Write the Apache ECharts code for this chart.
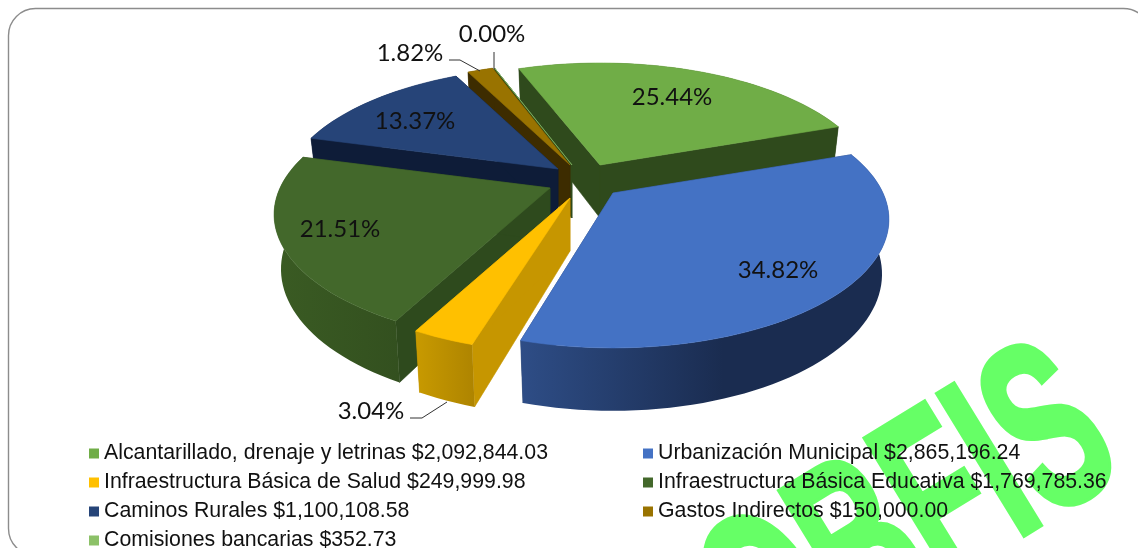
<!DOCTYPE html>
<html>
<head>
<meta charset="utf-8">
<style>
  html,body{margin:0;padding:0;background:#fff;overflow:hidden}
  #chart{width:1138px;height:548px}
</style>
<script src="https://cdn.jsdelivr.net/npm/echarts@6/dist/echarts.min.js"></script>
</head>
<body>
<div id="chart"></div>
<script>
// chart values, clockwise from the first slice
var names = ['Alcantarillado, drenaje y letrinas','Urbanización Municipal','Infraestructura Básica de Salud','Infraestructura Básica Educativa','Caminos Rurales','Gastos Indirectos','Comisiones bancarias'];
var amounts = [2092844.03,2865196.24,249999.98,1769785.36,1100108.58,150000.00,352.73];
var percentLabels = ['25.44%','34.82%','3.04%','21.51%','13.37%','1.82%','0.00%'];

// slice colours
var topColors = ['#70ad47','#4472c4','#ffc000','#43682b','#264478','#997300','#8cc168'];
var wallColors = ['#2f4a1c','#24406f','#c69600','#2e4a1d','#0e1c38','#3d2c00','#2f4a1c'];
var rimColors = [
  ['#2f4a1c','#2f4a1c'],
  ['#2e4d86','#1a2c50'],
  ['#c89a00','#ae8400'],
  ['#3a5b23','#33501f'],
  ['#0e1c38','#0e1c38'],
  ['#3d2c00','#3d2c00'],
  ['#2f4a1c','#2f4a1c']
];

// projection of the tilted pie
var cx = 572, cy = 180, rx = 270, ry = 123, tilt = 0.206, depth = 53, shrink = 0.975;
var startAngle = -110;
// small turn of the first two slices, the perspective in the original is not quite even
var angleShift = [-1,-1,0,0,0,0,0];
// how far each slice is pulled out
var explode = [[28,-15],[41,13],[-2,18],[-22,8],[-14,-11],[-2,-15],[0,-15]];
// back to front
var paintOrder = [0,6,5,4,3,2,1];
// label centre and leader line, relative to the slice apex
var labelOffset = [[72,-68],[165,77],[-199,213],[-210,41],[-143,-48],[-160,-112],[-80,-131]];
var leaders = {2:[[-160,220],[-148,220],[-123,204]],5:[[-121,-105],[-110,-105],[-90,-94]],6:[[-78,-113],[-78,-96]]};

var total = 0;
amounts.forEach(function(v){ total += v; });

function sliceAngles(i){
  var a = startAngle;
  for(var k=0;k<i;k++){ a += amounts[k]/total*360; }
  return [a+angleShift[i], a+angleShift[i] + amounts[i]/total*360];
}
function topPoint(i,deg,r){
  var t = deg*Math.PI/180, w = 1-tilt*Math.sin(t)*r;
  return [cx+explode[i][0]+rx*r*Math.cos(t)/w, cy+explode[i][1]+ry*r*Math.sin(t)/w];
}
function lowPoint(i,deg,r){
  var t = deg*Math.PI/180, w = 1-tilt*Math.sin(t)*r;
  return [cx+explode[i][0]+shrink*rx*r*Math.cos(t)/w, cy+explode[i][1]+shrink*ry*r*Math.sin(t)/w+depth/w];
}
function poly(points,fill,stroke){
  return {type:'polygon',shape:{points:points},style:{fill:fill,stroke:stroke,lineWidth:0.6}};
}

function renderSlice(i){
  return function(){
    var ang = sliceAngles(i), arcTop = [], arcLow = [];
    var steps = Math.max(1,Math.ceil((ang[1]-ang[0])/2));
    for(var s=0;s<=steps;s++){
      var d = ang[0]+(ang[1]-ang[0])*s/steps;
      arcTop.push(topPoint(i,d,1));
      arcLow.push(lowPoint(i,d,1));
    }
    var apexT = topPoint(i,0,0), apexL = lowPoint(i,0,0);
    var rimFill = new echarts.graphic.LinearGradient(0,0,1,0,[
      {offset:0,color:rimColors[i][0]},
      {offset:i===1?0.55:1,color:rimColors[i][1]},
      {offset:1,color:rimColors[i][1]}
    ]);
    var wall = wallColors[i];
    return {type:'group',children:[
      poly([apexT,arcTop[0],arcLow[0],apexL],wall,wall),
      poly([apexT,arcTop[steps],arcLow[steps],apexL],wall,wall),
      poly(arcTop.concat(arcLow.slice().reverse()),rimFill,null),
      poly([apexT].concat(arcTop),topColors[i],topColors[i])
    ]};
  };
}

function renderLabels(params){
  var i = params.dataIndex, apex = topPoint(i,0,0), kids = [];
  kids.push({type:'text',x:apex[0]+labelOffset[i][0],y:apex[1]+labelOffset[i][1],
    style:{text:percentLabels[i],font:'24px Lato',fill:'#111',align:'center',verticalAlign:'middle'}});
  if(leaders[i]){
    kids.push({type:'polyline',shape:{points:leaders[i].map(function(p){return [apex[0]+p[0],apex[1]+p[1]];})},
      style:{fill:null,stroke:'#333',lineWidth:1}});
  }
  return {type:'group',children:kids};
}

function legendName(i){
  return names[i]+' $'+amounts[i].toLocaleString('en-US',{minimumFractionDigits:2,maximumFractionDigits:2});
}

var series = names.map(function(n,i){
  return {
    name:legendName(i),
    type:'custom',
    coordinateSystem:'none',
    z:3+paintOrder.indexOf(i),
    silent:true,
    itemStyle:{color:topColors[i]},
    renderItem:renderSlice(i),
    data:[amounts[i]]
  };
});
series.push({
  name:'labels',type:'custom',coordinateSystem:'none',z:20,silent:true,
  renderItem:renderLabels,data:percentLabels
});

var legendBase = {
  orient:'vertical',top:443,height:140,itemWidth:10,itemHeight:10,itemGap:8,icon:'rect',
  selectedMode:false,padding:0,z:10,
  textStyle:{fontFamily:'Liberation Sans',fontSize:21.3,color:'#111'}
};

var chart = echarts.init(document.getElementById('chart'));
chart.setOption({
  animation:false,
  backgroundColor:'#fff',
  graphic:[
    {type:'rect',z:0,shape:{x:8.5,y:8.5,width:1142,height:547,r:27},style:{fill:'#fff',stroke:'#8c8c8c',lineWidth:1.4}},
    {type:'text',z:1,x:912,y:526,rotation:31.5*Math.PI/180,scaleX:0.6,scaleY:1.03,
      style:{text:'OBFIS',font:'bold 232px "Liberation Sans"',fill:'#66ff66',stroke:'#66ff66',lineWidth:6,align:'center',verticalAlign:'middle'}}
  ],
  legend:[
    Object.assign({},legendBase,{left:89,data:[0,2,4,6].map(legendName)}),
    Object.assign({},legendBase,{left:643,data:[1,3,5].map(legendName)})
  ],
  series:series
});
</script>
</body>
</html>
